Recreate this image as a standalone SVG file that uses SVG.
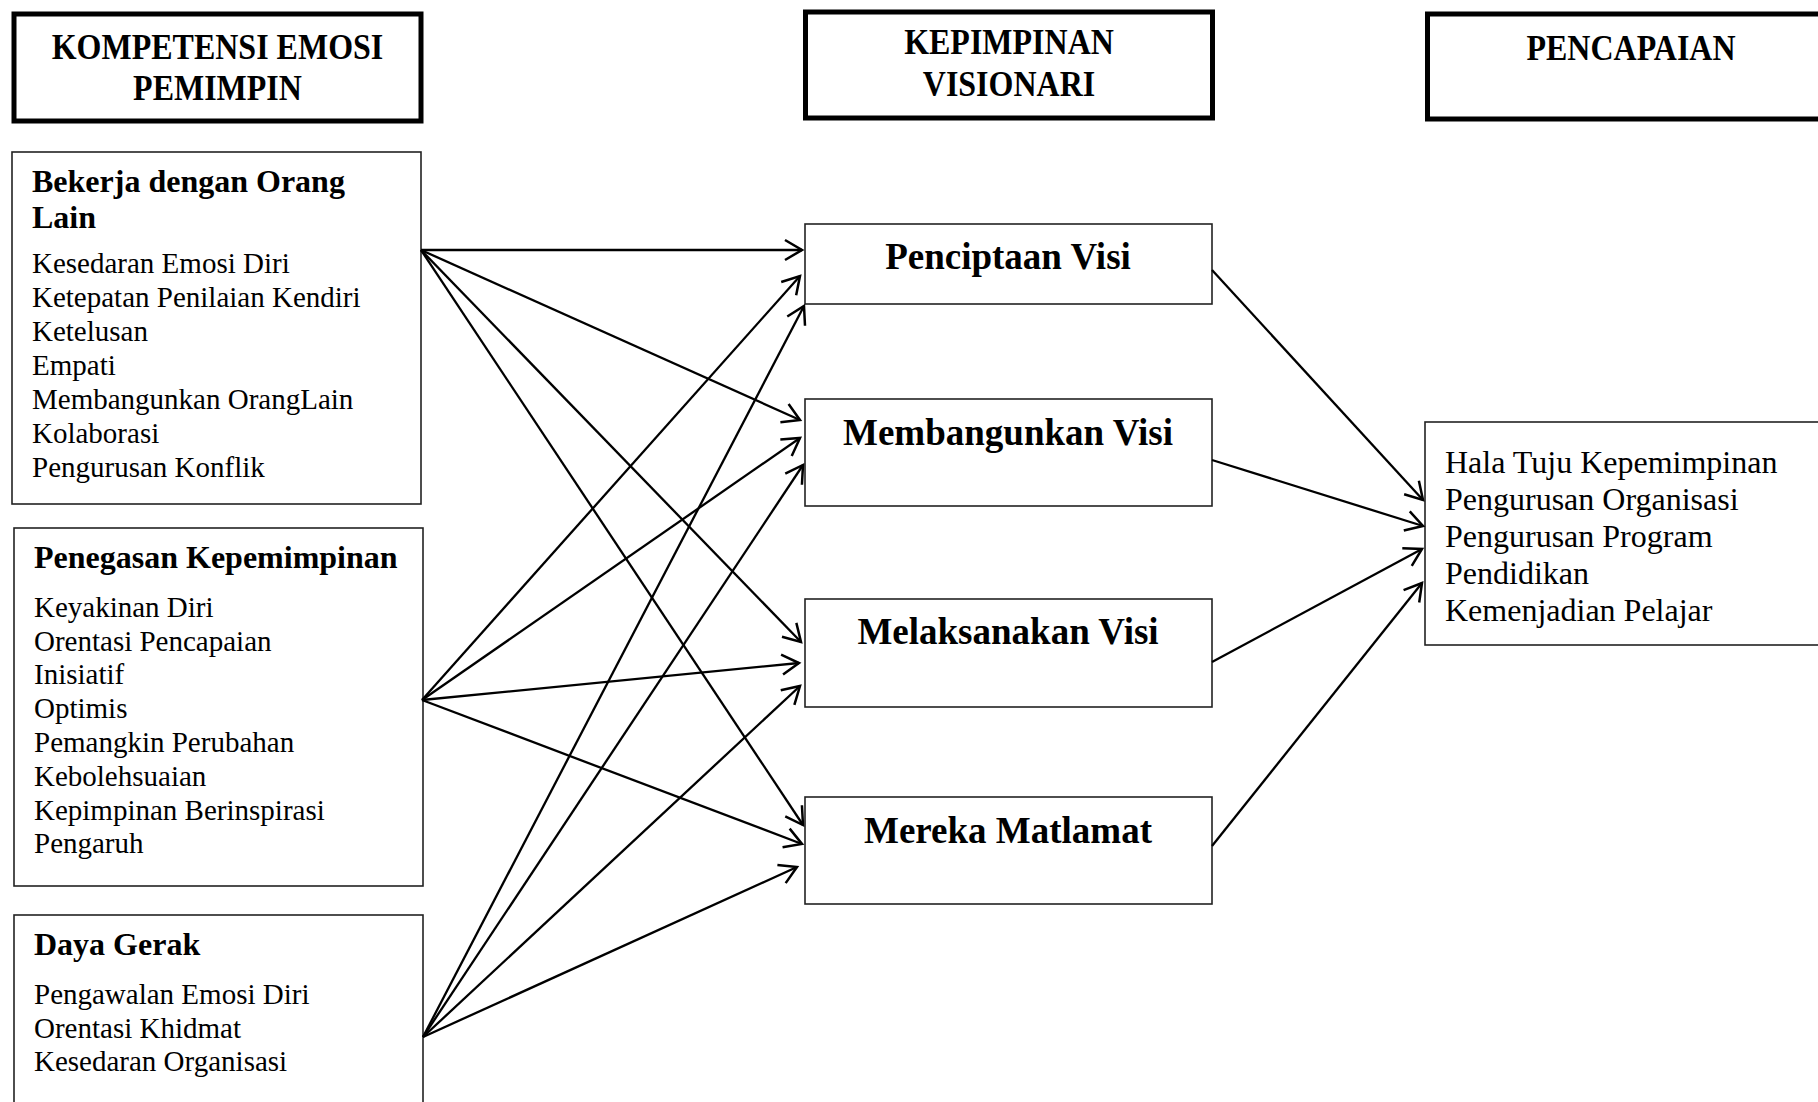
<svg xmlns="http://www.w3.org/2000/svg" width="1818" height="1102" viewBox="0 0 1818 1102">
<style>
.hdr{fill:#fff;stroke:#000;stroke-width:5}
.box{fill:#fff;stroke:#222;stroke-width:1.6}
.ht{font-family:"Liberation Serif","Times New Roman",serif;font-weight:bold;font-size:32px;fill:#000;text-anchor:middle}
.bt{font-family:"Liberation Serif","Times New Roman",serif;font-weight:bold;font-size:32px;fill:#000}
.it{font-family:"Liberation Serif","Times New Roman",serif;font-size:29px;fill:#000}
.rt{font-family:"Liberation Serif","Times New Roman",serif;font-size:32px;fill:#000}
.mt{font-family:"Liberation Serif","Times New Roman",serif;font-weight:bold;font-size:37px;fill:#000;text-anchor:middle}
.ln{stroke:#000;stroke-width:2.3;fill:none;marker-end:url(#arr)}
</style>
<defs>
<marker id="arr" markerUnits="userSpaceOnUse" viewBox="-20 -12 24 24" markerWidth="24" markerHeight="24" refX="0" refY="0" orient="auto" overflow="visible">
<path d="M-17,-10 L0,0 L-17,10" fill="none" stroke="#000" stroke-width="2.5"/>
</marker>
</defs>
<rect width="1818" height="1102" fill="#fff"/>

<g id="header-kompetensi">
<rect class="hdr" x="14" y="14" width="407" height="107"/>
<text class="ht" transform="translate(217.5,59) scale(1,1.12)">KOMPETENSI EMOSI</text>
<text class="ht" transform="translate(217.5,100) scale(1,1.12)">PEMIMPIN</text>
</g>
<g id="header-kepimpinan">
<rect class="hdr" x="805.5" y="12" width="407" height="106"/>
<text class="ht" transform="translate(1009,54) scale(1,1.12)">KEPIMPINAN</text>
<text class="ht" transform="translate(1009,96) scale(1,1.12)">VISIONARI</text>
</g>
<g id="header-pencapaian">
<rect class="hdr" x="1427.5" y="14" width="420" height="105"/>
<text class="ht" transform="translate(1631,60) scale(1,1.12)">PENCAPAIAN</text>
</g>

<g id="bekerja">
<rect class="box" x="12" y="152" width="409" height="352"/>
<text class="bt" x="32" y="192">Bekerja dengan Orang</text>
<text class="bt" x="32" y="228">Lain</text>
<text class="it" x="32" y="273">Kesedaran Emosi Diri</text>
<text class="it" x="32" y="307">Ketepatan Penilaian Kendiri</text>
<text class="it" x="32" y="341">Ketelusan</text>
<text class="it" x="32" y="375">Empati</text>
<text class="it" x="32" y="409">Membangunkan OrangLain</text>
<text class="it" x="32" y="443">Kolaborasi</text>
<text class="it" x="32" y="477">Pengurusan Konflik</text>
</g>
<g id="penegasan">
<rect class="box" x="14" y="528" width="409" height="358"/>
<text class="bt" x="34" y="568">Penegasan Kepemimpinan</text>
<text class="it" x="34" y="617">Keyakinan Diri</text>
<text class="it" x="34" y="651">Orentasi Pencapaian</text>
<text class="it" x="34" y="684">Inisiatif</text>
<text class="it" x="34" y="718">Optimis</text>
<text class="it" x="34" y="752">Pemangkin Perubahan</text>
<text class="it" x="34" y="786">Kebolehsuaian</text>
<text class="it" x="34" y="820">Kepimpinan Berinspirasi</text>
<text class="it" x="34" y="853">Pengaruh</text>
</g>
<g id="daya-gerak">
<rect class="box" x="14" y="915" width="409" height="220"/>
<text class="bt" x="34" y="955">Daya Gerak</text>
<text class="it" x="34" y="1004">Pengawalan Emosi Diri</text>
<text class="it" x="34" y="1038">Orentasi Khidmat</text>
<text class="it" x="34" y="1071">Kesedaran Organisasi</text>
</g>

<g id="penciptaan-visi">
<rect class="box" x="805" y="224" width="407" height="80"/>
<text class="mt" x="1008" y="269">Penciptaan Visi</text>
</g>
<g id="membangunkan-visi">
<rect class="box" x="805" y="399" width="407" height="107"/>
<text class="mt" x="1008" y="445">Membangunkan Visi</text>
</g>
<g id="melaksanakan-visi">
<rect class="box" x="805" y="599" width="407" height="108"/>
<text class="mt" x="1008" y="644">Melaksanakan Visi</text>
</g>
<g id="mereka-matlamat">
<rect class="box" x="805" y="797" width="407" height="107"/>
<text class="mt" x="1008" y="843">Mereka Matlamat</text>
</g>

<g id="pencapaian">
<rect class="box" x="1425" y="422" width="420" height="223"/>
<text class="rt" x="1445" y="473">Hala Tuju Kepemimpinan</text>
<text class="rt" x="1445" y="510">Pengurusan Organisasi</text>
<text class="rt" x="1445" y="547">Pengurusan Program</text>
<text class="rt" x="1445" y="584">Pendidikan</text>
<text class="rt" x="1445" y="621">Kemenjadian Pelajar</text>
</g>

<g id="connectors">
<line class="ln" x1="421" y1="250" x2="802" y2="250"/>
<line class="ln" x1="421" y1="250" x2="800" y2="420"/>
<line class="ln" x1="421" y1="250" x2="801" y2="642"/>
<line class="ln" x1="421" y1="250" x2="803" y2="825"/>
<line class="ln" x1="422" y1="700" x2="800" y2="276"/>
<line class="ln" x1="422" y1="700" x2="800" y2="438"/>
<line class="ln" x1="422" y1="700" x2="799" y2="663"/>
<line class="ln" x1="422" y1="700" x2="802" y2="844"/>
<line class="ln" x1="423" y1="1037" x2="804" y2="306"/>
<line class="ln" x1="423" y1="1037" x2="803" y2="465"/>
<line class="ln" x1="423" y1="1037" x2="800" y2="686"/>
<line class="ln" x1="423" y1="1037" x2="797" y2="867"/>
<line class="ln" x1="1212" y1="270" x2="1423" y2="500"/>
<line class="ln" x1="1212" y1="460" x2="1423" y2="526"/>
<line class="ln" x1="1212" y1="662" x2="1422" y2="549"/>
<line class="ln" x1="1212" y1="846" x2="1422" y2="583"/>
</g>
</svg>
